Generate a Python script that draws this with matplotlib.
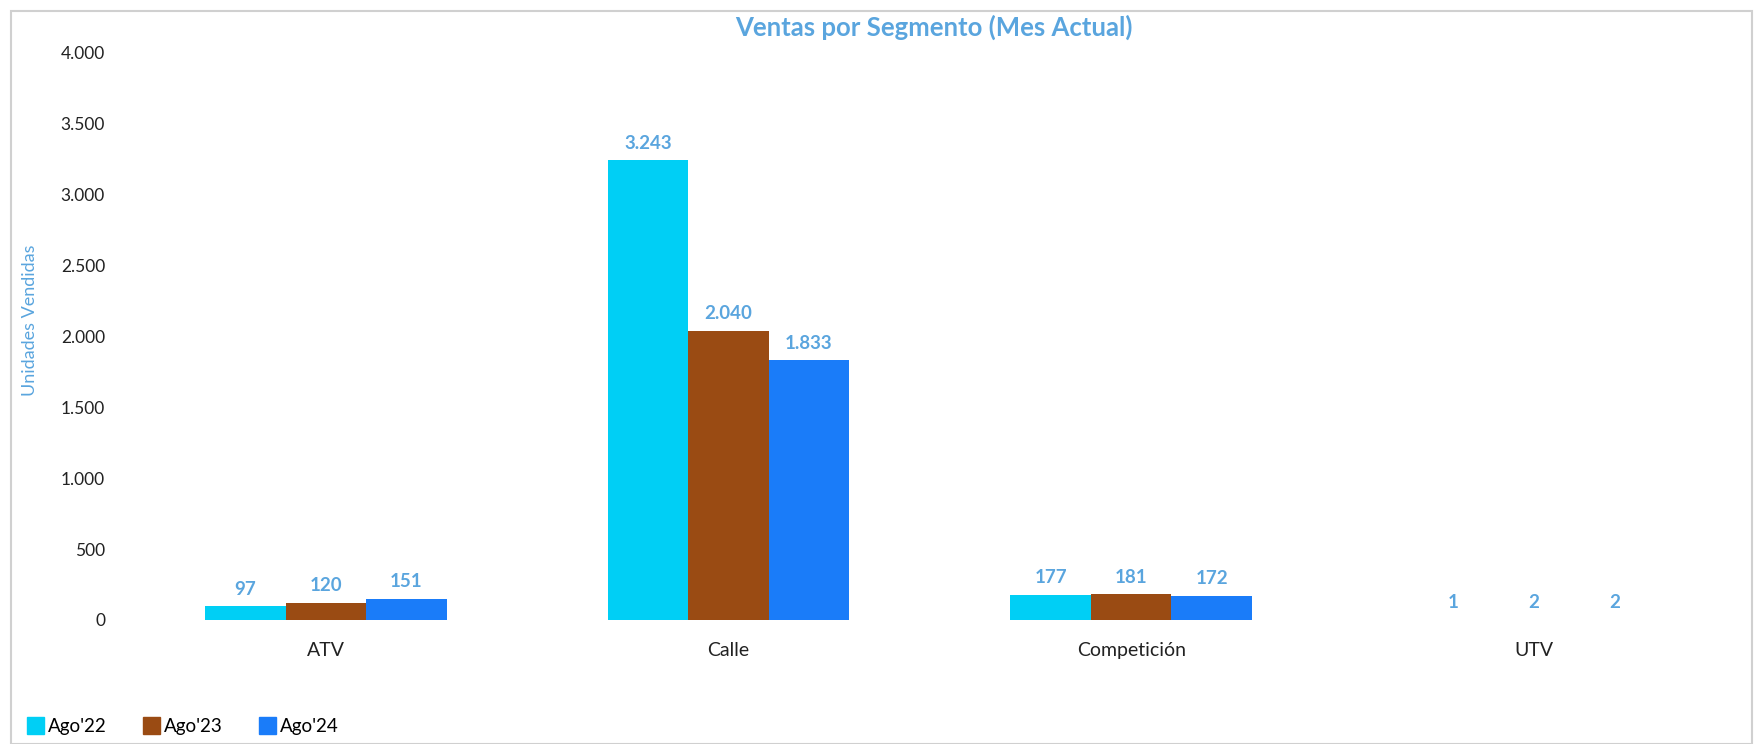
import matplotlib
matplotlib.use("Agg")
import matplotlib.pyplot as plt
from matplotlib.patches import Rectangle, Patch
import numpy as np

categories = ["ATV", "Calle", "Competición", "UTV"]
series_names = ["Ago'22", "Ago'23", "Ago'24"]
ago22 = [97, 3243, 177, 1]
ago23 = [120, 2040, 181, 2]
ago24 = [151, 1833, 172, 2]
yticks = [0, 500, 1000, 1500, 2000, 2500, 3000, 3500, 4000]

colors = ["#00CFF5", "#9A4B13", "#1A7CF9"]
label_color = "#5AA5DE"
FONT = ["Lato", "DejaVu Sans"]
plt.rcParams['font.family'] = FONT

def fmt(v):
    return f"{v:,}".replace(",", ".")

fig = plt.figure(figsize=(17.58, 7.44), dpi=100)
ax = fig.add_axes([0.0708, 0.1667, 0.9162, 0.7621])

x = np.arange(len(categories))
w = 0.2
for i, (vals, c) in enumerate(zip([ago22, ago23, ago24], colors)):
    xs = x + (i - 1) * w
    ax.bar(xs, vals, width=w, color=c, label=series_names[i])
    for xi, v in zip(xs, vals):
        ax.text(xi, v + 60, fmt(v), ha="center", va="bottom",
                fontsize=13.5, fontweight="bold", color=label_color)

ax.set_xlim(-0.5, len(categories) - 0.5)
ax.set_ylim(0, 4000)
ax.set_yticks(yticks)
ax.set_yticklabels([fmt(t) for t in yticks], fontsize=12.5, color="#222222")
ax.set_xticks(x)
ax.set_xticklabels(categories, fontsize=14, color="#222222")
ax.tick_params(axis="both", length=0)
ax.tick_params(axis="y", pad=14)
ax.tick_params(axis="x", pad=16)
for s in ax.spines.values():
    s.set_visible(False)

fig.text(0.017, 0.569, "Unidades Vendidas", rotation=90, ha="center", va="center",
         fontsize=13, color=label_color)
fig.text(0.531, 0.963, "Ventas por Segmento (Mes Actual)", ha="center", va="center",
         fontsize=18.5, fontweight="bold", color=label_color)

handles = [Patch(facecolor=c, edgecolor=c) for c in colors]
fig.legend(handles, series_names, loc="lower left", bbox_to_anchor=(0.006, -0.01),
           ncol=3, frameon=False, fontsize=13.5, handlelength=0.9, handleheight=1.0,
           handletextpad=0.2, columnspacing=1.95)

fig.patches.append(Rectangle((0.0065, 0.0), 0.99, 0.985, transform=fig.transFigure,
                             fill=False, edgecolor="#D0D0D0", linewidth=1.5))

fig.savefig("out.png", dpi=100)
